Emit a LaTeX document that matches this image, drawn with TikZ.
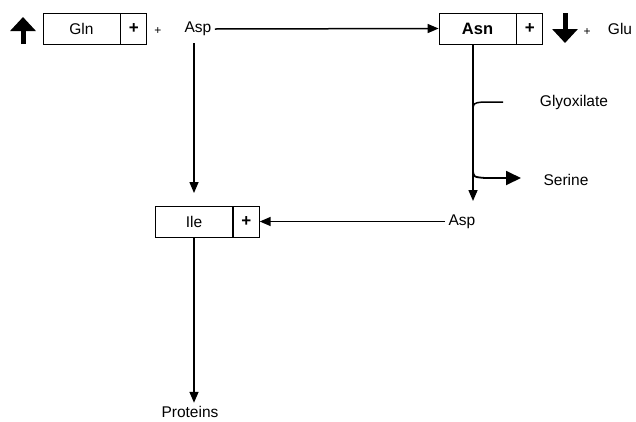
\documentclass[tikz,border=0pt]{standalone}
\usepackage{fontspec}
\setmainfont{Liberation Sans}
\usetikzlibrary{arrows.meta}
\begin{document}
\begin{tikzpicture}[x=1pt,y=-1pt,font=\fontsize{15.5}{17}\selectfont,
    box/.style={draw,line width=0.8pt,minimum width=77pt,minimum height=31pt,inner sep=0pt},
    pbox/.style={draw,line width=0.8pt,minimum width=26pt,minimum height=31pt,inner sep=0pt,font=\fontsize{17}{17}\selectfont\bfseries},
    small/.style={font=\fontsize{12}{14}\selectfont},
    flow/.style={line width=1.5pt,-{Triangle[length=11pt,width=9pt]}},
    bigarr/.style={line width=5pt,-{Triangle[length=14pt,width=25pt]}}]
  \useasboundingbox (0,0) rectangle (636,421);
  % top row
  \node[box] (gln) at (81.5,28.5) {Gln};
  \node[pbox,anchor=west] (glnp) at (gln.east) {+};
  \node[small] (plusa) at (158,31) {+};
  \node (aspa) at (198,29) {Asp};
  \node[box,font=\fontsize{16.5}{17}\selectfont\bfseries] (asn) at (477.5,28.5) {Asn};
  \node[pbox,anchor=west] (asnp) at (asn.east) {+};
  \node[small] (plusb) at (587,32) {+};
  \node (glu) at (620,29) {Glu};
  \coordinate (upbot) at (23,44);
  \coordinate (uptop) at (23,17);
  \coordinate (dntop) at (565,13);
  \coordinate (dnbot) at (565,43);
  \draw[bigarr] (upbot) -- (uptop);
  \draw[bigarr] (dntop) -- (dnbot);
  % middle
  \node[box] (ile) at (194,221.5) {Ile};
  \node[pbox,anchor=west] (ilep) at (ile.east) {+};
  \node (aspb) at (462,221.5) {Asp};
  \node (glyox) at (574,102) {Glyoxilate};
  \node (serine) at (566,180) {Serine};
  \node (prot) at (190,412) {Proteins};
  \coordinate (asndown) at (473,44);
  \coordinate (asptip) at (473,201);
  \coordinate (gj) at (473,112);
  \coordinate (gend) at (503,102);
  \coordinate (sj) at (473,168);
  \coordinate (send) at (521,178);
  % connectors
  \draw[flow] (aspa.east) -- (asn.west);
  \draw[flow] (194,43) -- (194,193);
  \draw[flow] (aspb.west) -- (ilep.east);
  \draw[flow] (asndown) -- (asptip);
  \draw[line width=1.5pt] (gj) .. controls (473,103) .. (483,102) -- (gend);
  \draw[line width=1.8pt,-{Triangle[length=15pt,width=14pt]}] (sj) .. controls (473,177) .. (485,178) -- (send);
  \draw[flow] (ile.south) -- (ile.south |- prot.north);
\end{tikzpicture}
\end{document}
